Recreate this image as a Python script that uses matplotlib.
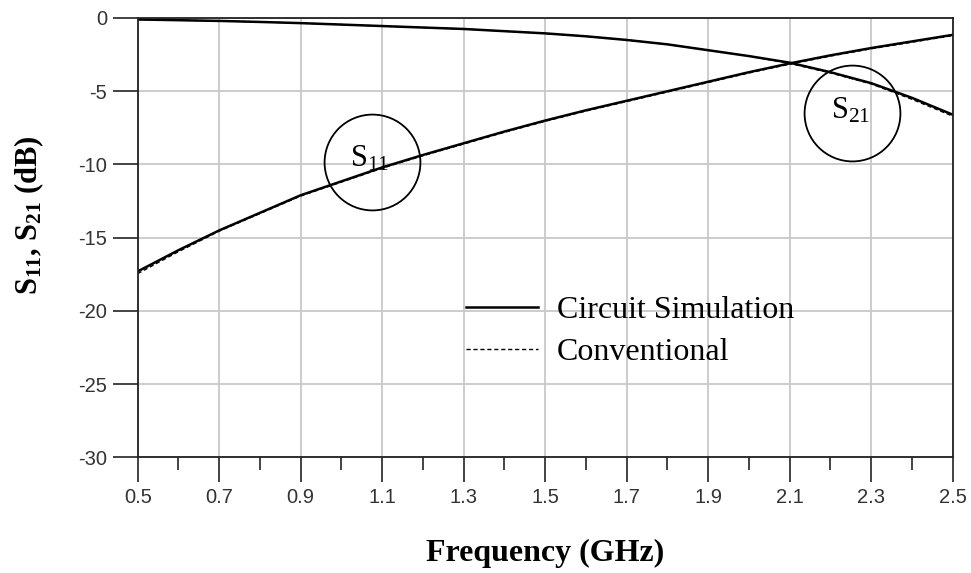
import numpy as np
import matplotlib
matplotlib.use("Agg")
from matplotlib import pyplot as plt
from matplotlib.ticker import MultipleLocator

# data (GHz, dB)
freq = [0.5, 0.6, 0.7, 0.8, 0.9, 1.0, 1.1, 1.2, 1.3, 1.4, 1.5,
        1.6, 1.7, 1.8, 1.9, 2.0, 2.1, 2.2, 2.3, 2.4, 2.5]
s11_sim = [-17.3, -15.85, -14.5, -13.3, -12.1, -11.15, -10.2, -9.35, -8.55, -7.75, -7.0,
           -6.3, -5.65, -5.0, -4.35, -3.7, -3.1, -2.55, -2.05, -1.6, -1.15]
s11_conv = [-17.45, -15.95, -14.55, -13.35, -12.15, -11.2, -10.25, -9.4, -8.6, -7.8, -7.05,
            -6.35, -5.7, -5.05, -4.4, -3.75, -3.15, -2.6, -2.1, -1.65, -1.2]
s21_sim = [-0.1, -0.15, -0.2, -0.27, -0.35, -0.45, -0.55, -0.65, -0.75, -0.9, -1.05,
           -1.25, -1.5, -1.8, -2.2, -2.6, -3.05, -3.7, -4.45, -5.45, -6.6]
s21_conv = [-0.1, -0.15, -0.2, -0.27, -0.35, -0.45, -0.55, -0.65, -0.75, -0.9, -1.05,
            -1.25, -1.5, -1.8, -2.2, -2.6, -3.1, -3.75, -4.5, -5.55, -6.7]

# callout circles around the curve names
callout_x = [1.075, 2.253]
callout_y = [-9.84, -6.49]
callout_text = [r"$\mathregular{S_{11}}$", r"$\mathregular{S_{21}}$"]
text_x = [1.07, 2.25]
text_y = [-9.6, -6.3]

xticks = [0.5, 0.7, 0.9, 1.1, 1.3, 1.5, 1.7, 1.9, 2.1, 2.3, 2.5]
yticks = [0, -5, -10, -15, -20, -25, -30]

plt.rcParams["mathtext.fontset"] = "custom"
plt.rcParams["mathtext.rm"] = "Liberation Serif"
plt.rcParams["mathtext.bf"] = "Liberation Serif:bold"
plt.rcParams["axes.unicode_minus"] = False

fig = plt.figure(figsize=(9.71, 5.73), dpi=100)
ax = fig.add_axes([0.1418, 0.2016, 0.8394, 0.767])

# curves
ax.plot(freq, s11_conv, color="black", lw=1.0, ls=(0, (3, 2)), label="Conventional")
ax.plot(freq, s21_conv, color="black", lw=1.0, ls=(0, (3, 2)))
ax.plot(freq, s11_sim, color="black", lw=1.8, label="Circuit Simulation")
ax.plot(freq, s21_sim, color="black", lw=1.8)

# circles + names
for cx, cy in zip(callout_x, callout_y):
    ax.plot([cx], [cy], marker="o", ms=69, mfc="none", mec="black", mew=1.3)
for tx, ty, s in zip(text_x, text_y, callout_text):
    ax.text(tx, ty, s, ha="center", va="center", fontsize=22, family="Liberation Serif")

ax.set_xlim(0.5, 2.5)
ax.set_ylim(-30, 0)
ax.set_xticks(xticks)
ax.set_yticks(yticks)
ax.set_xticklabels([str(t) for t in xticks])
ax.xaxis.set_minor_locator(MultipleLocator(0.1))

ax.grid(True, which="major", color="#c8c8c8", lw=1.3)
ax.set_axisbelow(True)

ax.tick_params(axis="both", which="major", direction="out", length=18, width=1.2,
               color="#222222", labelsize=14.5, labelcolor="#333333", pad=4)
ax.tick_params(axis="x", which="minor", direction="out", length=9, width=1.2, color="#222222")
for lab in ax.get_xticklabels() + ax.get_yticklabels():
    lab.set_family("Liberation Sans")

for sp in ax.spines.values():
    sp.set_linewidth(1.3)
    sp.set_color("#222222")

ax.set_xlabel("Frequency (GHz)", fontsize=23, fontweight="bold",
              family="Liberation Serif", labelpad=23)
ax.set_ylabel(r"$\mathbf{S_{11}}$, $\mathbf{S_{21}}$ (dB)", fontsize=22, fontweight="bold",
              family="Liberation Serif")
ax.yaxis.set_label_coords(-(137.7 - 46) / 815, 0.552)

h, l = ax.get_legend_handles_labels()
ax.legend(h[::-1], l[::-1], loc="upper left", bbox_to_anchor=(466 / 971, 1 - 296 / 573),
          bbox_transform=fig.transFigure, frameon=False,
          prop={"family": "Liberation Serif", "size": 23},
          handlelength=2.25, handletextpad=0.6, labelspacing=0.4,
          borderpad=0, borderaxespad=0)

fig.savefig("out.png", dpi=100)
